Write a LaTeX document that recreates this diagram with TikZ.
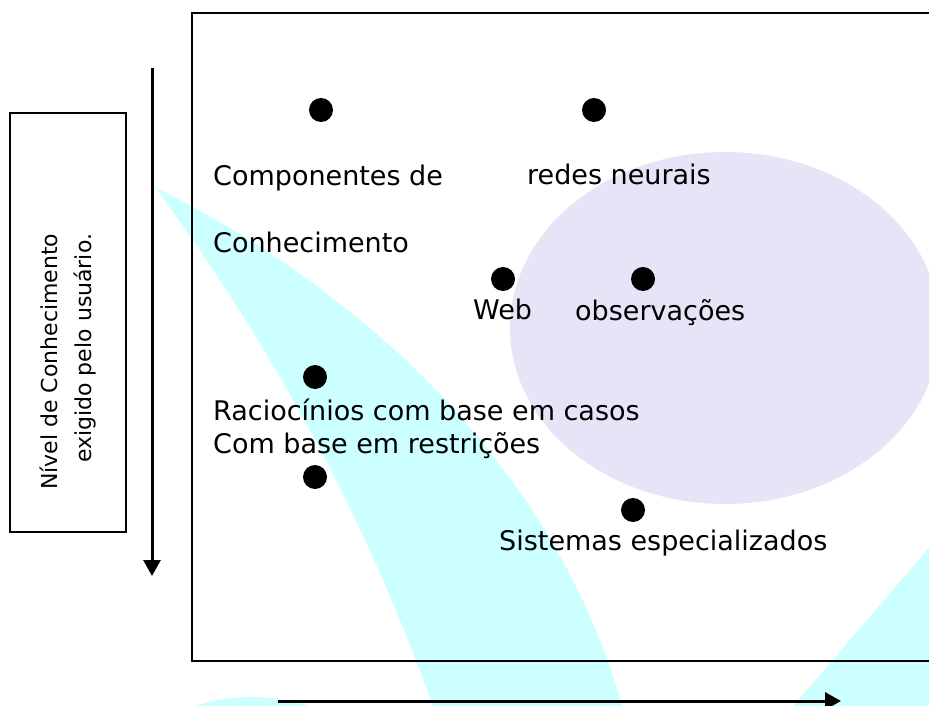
\documentclass[tikz,border=0pt]{standalone}
\usepackage{fontspec}
\setmainfont{DejaVu Sans}
\usetikzlibrary{arrows.meta}
\definecolor{cyanband}{RGB}{204,255,255}
\definecolor{lavender}{RGB}{230,228,246}
\tikzset{
	ptdot/.style={circle,fill=black,inner sep=0pt,minimum size=24pt},
	lbl/.style={anchor=base west,inner sep=0pt,font=\fontsize{27}{33}\selectfont},
	sidelbl/.style={anchor=base west,inner sep=0pt,rotate=90,font=\fontsize{22}{26}\selectfont},
	eixo/.style={line width=3pt,-{Triangle[length=16pt,width=17pt]}},
}
\begin{document}
\begin{tikzpicture}[x=1pt,y=-1pt]
		\clip (0,0) rectangle (929,706);
		% fundo
		\fill[cyanband] (155,187) .. controls (260,330) and (360,500) .. (435,712)
			-- (624,712) .. controls (560,480) and (380,300) .. (155,187) -- cycle;
		\fill[cyanband] (929,548) -- (788,712) -- (935,712) -- cycle;
		\fill[cyanband] (252,727) ellipse [x radius=80,y radius=30];
		\fill[lavender] (725,328) ellipse [x radius=215,y radius=176];
		\draw[line width=2.2pt] (192,13) rectangle (945,661);
		% eixo vertical
		\draw[line width=1.5pt] (10,113) rectangle (126,532);
		\node[sidelbl] (nivel) at (57,490) {Nível de Conhecimento};
		\node[sidelbl] (exigido) at (91,463) {exigido pelo usuário.};
		\coordinate (vtop) at (152,68);
		\coordinate (vbot) at (152,576);
		\draw[eixo] (vtop) -- (vbot);
		\coordinate (hleft) at (278,701);
		\coordinate (hright) at (841,701);
		\draw[eixo] (hleft) -- (hright);
		% pontos
		\node[ptdot] (compdot) at (321,110) {};
		\node[ptdot] (redesdot) at (594,110) {};
		\node[ptdot] (webdot) at (503,279) {};
		\node[ptdot] (obsdot) at (643,279) {};
		\node[ptdot] (racdot) at (315,377) {};
		\node[ptdot] (restdot) at (315,477) {};
		\node[ptdot] (sisdot) at (633,510) {};
		% textos
		\node[lbl] (comp) at (213,185) {Componentes de};
		\node[lbl] (conh) at (213,252) {Conhecimento};
		\node[lbl] (redes) at (527,184) {redes neurais};
		\node[lbl] (web) at (473,319) {Web};
		\node[lbl] (obs) at (575,320) {observações};
		\node[lbl] (rac) at (213,420) {Raciocínios com base em casos};
		\node[lbl] (rest) at (213,453) {Com base em restrições};
		\node[lbl] (sis) at (499,550) {Sistemas especializados};
	\end{tikzpicture}
\end{document}
